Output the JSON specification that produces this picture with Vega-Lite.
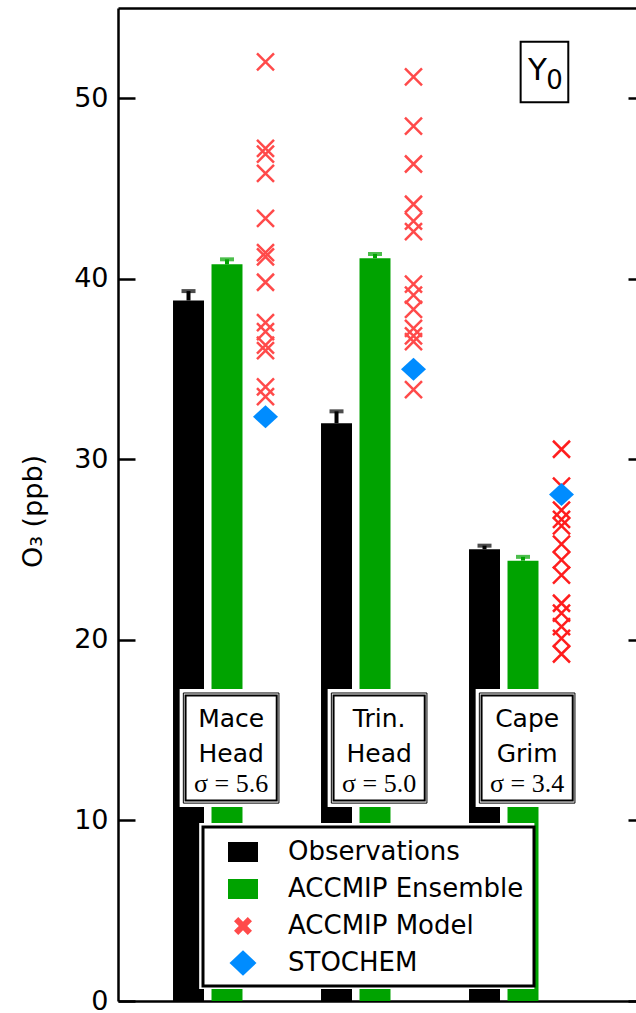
{
  "$schema": "https://vega.github.io/schema/vega-lite/v6.json",
  "width": 518,
  "height": 993,
  "autosize": {"type": "none"},
  "padding": {"left": 118, "top": 8, "right": 0, "bottom": 12},
  "background": "white",
  "config": {"view": {"stroke": null}, "font": "DejaVu Sans", "axis": {"grid": false}},
  "datasets": {
    "bars": [
      {"site": "Mace Head", "series": "Observations", "value": 38.8, "upper": 39.32},
      {"site": "Mace Head", "series": "ACCMIP Ensemble", "value": 40.8, "upper": 41.08},
      {"site": "Trin. Head", "series": "Observations", "value": 32.0, "upper": 32.66},
      {"site": "Trin. Head", "series": "ACCMIP Ensemble", "value": 41.14, "upper": 41.38},
      {"site": "Cape Grim", "series": "Observations", "value": 25.02, "upper": 25.22},
      {"site": "Cape Grim", "series": "ACCMIP Ensemble", "value": 24.39, "upper": 24.6}
    ],
    "models": [
      {"site": "Mace Head", "value": 52.02}, {"site": "Mace Head", "value": 47.23}, {"site": "Mace Head", "value": 46.91},
      {"site": "Mace Head", "value": 45.84}, {"site": "Mace Head", "value": 43.35}, {"site": "Mace Head", "value": 41.45},
      {"site": "Mace Head", "value": 41.22}, {"site": "Mace Head", "value": 39.81}, {"site": "Mace Head", "value": 37.57},
      {"site": "Mace Head", "value": 37.07}, {"site": "Mace Head", "value": 36.33}, {"site": "Mace Head", "value": 36.02},
      {"site": "Mace Head", "value": 34.02}, {"site": "Mace Head", "value": 33.47},
      {"site": "Trin. Head", "value": 51.19}, {"site": "Trin. Head", "value": 48.46}, {"site": "Trin. Head", "value": 46.36},
      {"site": "Trin. Head", "value": 44.13}, {"site": "Trin. Head", "value": 43.2}, {"site": "Trin. Head", "value": 42.61},
      {"site": "Trin. Head", "value": 39.71}, {"site": "Trin. Head", "value": 39.1}, {"site": "Trin. Head", "value": 38.31},
      {"site": "Trin. Head", "value": 37.26}, {"site": "Trin. Head", "value": 36.84}, {"site": "Trin. Head", "value": 36.52},
      {"site": "Trin. Head", "value": 33.86},
      {"site": "Cape Grim", "value": 30.56}, {"site": "Cape Grim", "value": 28.52}, {"site": "Cape Grim", "value": 27.19},
      {"site": "Cape Grim", "value": 26.68}, {"site": "Cape Grim", "value": 26.31}, {"site": "Cape Grim", "value": 25.31},
      {"site": "Cape Grim", "value": 24.43}, {"site": "Cape Grim", "value": 23.59}, {"site": "Cape Grim", "value": 22.03},
      {"site": "Cape Grim", "value": 21.48}, {"site": "Cape Grim", "value": 20.73}, {"site": "Cape Grim", "value": 20.09},
      {"site": "Cape Grim", "value": 19.22}
    ],
    "stochem": [
      {"site": "Mace Head", "value": 32.36},
      {"site": "Trin. Head", "value": 34.99},
      {"site": "Cape Grim", "value": 28.06}
    ],
    "labels": [
      {"site": "Mace Head", "name": "Mace\nHead", "sigma": "σ = 5.6"},
      {"site": "Trin. Head", "name": "Trin.\nHead", "sigma": "σ = 5.0"},
      {"site": "Cape Grim", "name": "Cape\nGrim", "sigma": "σ = 3.4"}
    ],
    "tag": [{"site": "Cape Grim", "main": "Y", "sub": "0"}],
    "frame": [{"from": "Mace Head", "to": "Cape Grim"}]
  },
  "layer": [
    {
      "data": {"name": "bars"},
      "mark": {"type": "bar"},
      "encoding": {
        "x": {"field": "site", "type": "nominal",
          "scale": {"domain": ["Mace Head", "Trin. Head", "Cape Grim"], "paddingInner": 0, "paddingOuter": 0.25, "align": 0.473},
          "axis": {"orient": "bottom", "title": null, "labels": false, "ticks": false, "domain": true, "domainColor": "black", "domainWidth": 2.5}},
        "xOffset": {"field": "series", "type": "nominal",
          "scale": {"domain": ["Observations", "ACCMIP Ensemble", "Models"], "paddingInner": 0.195, "paddingOuter": 0.52}},
        "y": {"field": "value", "type": "quantitative",
          "scale": {"domain": [0, 55], "nice": false, "zero": true},
          "axis": {"orient": "left", "values": [0, 10, 20, 30, 40, 50], "tickSize": -17, "tickWidth": 2.5, "tickColor": "black",
            "domainColor": "black", "domainWidth": 2.5, "labelPadding": 27, "labelFont": "DejaVu Sans", "labelFontSize": 27,
            "labelColor": "black", "title": "O₃ (ppb)", "titleFont": "DejaVu Sans", "titleFontSize": 27, "titleFontWeight": "normal",
            "titleColor": "black", "titleX": -85, "titleY": 503, "titleBaseline": "middle", "titleAlign": "center", "titleAngle": 270, "grid": false}},
        "color": {"field": "series", "type": "nominal",
          "scale": {"domain": ["Observations", "ACCMIP Ensemble", "ACCMIP Model", "STOCHEM"], "range": ["#000000", "#00a300", "#ff4a4a", "#008cff"]},
          "legend": {"orient": "none", "legendX": 85, "legendY": 819, "title": null, "fillColor": "white", "strokeColor": "black",
            "padding": 10, "labelFont": "DejaVu Sans", "labelFontSize": 26, "labelColor": "black", "labelOffset": 30, "labelLimit": 400,
            "symbolSize": 900, "symbolOffset": 15, "rowPadding": 9, "symbolStrokeWidth": 0,
            "encode": {
              "legend": {"update": {"stroke": {"value": "black"}, "strokeWidth": {"value": 3}, "fill": {"value": "white"}}},
              "symbols": {"update": {
                "shape": [
                  {"test": "datum.value === 'ACCMIP Model'", "value": "M-0.317,0.6L-0.6,0.317L-0.283,0L-0.6,-0.317L-0.317,-0.6L0,-0.283L0.317,-0.6L0.6,-0.317L0.283,0L0.6,0.317L0.317,0.6L0,0.283Z"},
                  {"test": "datum.value === 'STOCHEM'", "value": "M0,-0.85L0.9,0L0,0.85L-0.9,0Z"},
                  {"value": "M-1,-0.667H1V0.667H-1Z"}
                ],
                "fill": {"scale": "color", "field": "value"},
                "stroke": {"value": "transparent"},
                "strokeWidth": {"value": 0},
                "size": {"value": 900},
                "opacity": {"value": 1}
              }}
            }}
        }
      }
    },
    {
      "data": {"name": "bars"},
      "mark": {"type": "rule", "strokeWidth": 4},
      "encoding": {
        "x": {"field": "site", "type": "nominal",
          "axis": {"orient": "top", "title": null, "labels": false, "ticks": false, "domain": true, "domainColor": "black", "domainWidth": 2.5}},
        "xOffset": {"field": "series", "type": "nominal"},
        "y": {"field": "value", "type": "quantitative", "axis": null},
        "y2": {"field": "upper"},
        "color": {"field": "series", "type": "nominal"}
      }
    },
    {
      "data": {"name": "bars"},
      "mark": {"type": "tick", "size": 14, "thickness": 4},
      "encoding": {
        "x": {"field": "site", "type": "nominal", "axis": null},
        "xOffset": {"field": "series", "type": "nominal"},
        "y": {"field": "upper", "type": "quantitative", "axis": null},
        "color": {"field": "series", "type": "nominal"}
      }
    },
    {
      "data": {"name": "models"},
      "mark": {"type": "point", "shape": "M-1,-1L1,1M-1,1L1,-1", "filled": false, "size": 289, "strokeWidth": 2.5, "opacity": 1},
      "encoding": {
        "x": {"field": "site", "type": "nominal", "axis": null},
        "xOffset": {"datum": "Models"},
        "y": {"field": "value", "type": "quantitative",
          "axis": {"orient": "right", "values": [0, 10, 20, 30, 40, 50], "tickSize": -8, "tickWidth": 2.5, "tickColor": "black",
            "labels": false, "domain": false, "title": null, "grid": false}},
        "color": {"condition": {"test": "datum.site === 'Cape Grim'", "value": "#ff1e1e"}, "datum": "ACCMIP Model"}
      }
    },
    {
      "data": {"name": "stochem"},
      "mark": {"type": "point", "shape": "M0,-0.92L1,0L0,0.92L-1,0Z", "filled": true, "size": 625, "opacity": 1, "strokeWidth": 0},
      "encoding": {
        "x": {"field": "site", "type": "nominal", "axis": null},
        "xOffset": {"datum": "Models"},
        "y": {"field": "value", "type": "quantitative", "axis": null},
        "color": {"datum": "STOCHEM"}
      }
    },
    {
      "data": {"name": "labels"},
      "mark": {"type": "rect", "fill": "white", "strokeWidth": 0},
      "encoding": {
        "x": {"field": "site", "type": "nominal", "bandPosition": 0.18, "axis": null},
        "x2": {"field": "site", "bandPosition": 0.876},
        "y": {"datum": 10.74, "type": "quantitative", "axis": null},
        "y2": {"datum": 17.28}
      }
    },
    {
      "data": {"name": "labels"},
      "mark": {"type": "rect", "fill": "white", "stroke": "black", "strokeWidth": 1},
      "encoding": {
        "x": {"field": "site", "type": "nominal", "bandPosition": 0.205, "axis": null},
        "x2": {"field": "site", "bandPosition": 0.851},
        "y": {"datum": 10.96, "type": "quantitative", "axis": null},
        "y2": {"datum": 17.06}
      }
    },
    {
      "data": {"name": "labels"},
      "mark": {"type": "rect", "fill": "transparent", "stroke": "black", "strokeWidth": 2},
      "encoding": {
        "x": {"field": "site", "type": "nominal", "bandPosition": 0.22, "axis": null},
        "x2": {"field": "site", "bandPosition": 0.836},
        "y": {"datum": 11.1, "type": "quantitative", "axis": null},
        "y2": {"datum": 16.92}
      }
    },
    {
      "data": {"name": "labels"},
      "mark": {"type": "text", "font": "DejaVu Sans", "fontSize": 25, "lineBreak": "\n", "lineHeight": 35, "align": "center", "baseline": "alphabetic", "color": "black"},
      "encoding": {
        "x": {"field": "site", "type": "nominal", "bandPosition": 0.528, "axis": null},
        "y": {"datum": 15.18, "type": "quantitative", "axis": null},
        "text": {"field": "name"}
      }
    },
    {
      "data": {"name": "labels"},
      "mark": {"type": "text", "font": "Liberation Serif", "fontSize": 26, "align": "center", "baseline": "alphabetic", "color": "black"},
      "encoding": {
        "x": {"field": "site", "type": "nominal", "bandPosition": 0.528, "axis": null},
        "y": {"datum": 11.58, "type": "quantitative", "axis": null},
        "text": {"field": "sigma"}
      }
    },
    {
      "data": {"name": "tag"},
      "mark": {"type": "rect", "fill": "white", "stroke": "black", "strokeWidth": 2},
      "encoding": {
        "x": {"field": "site", "type": "nominal", "bandPosition": 0.484, "axis": null},
        "x2": {"field": "site", "bandPosition": 0.806},
        "y": {"datum": 49.78, "type": "quantitative", "axis": null},
        "y2": {"datum": 53.13}
      }
    },
    {
      "data": {"name": "tag"},
      "mark": {"type": "text", "font": "DejaVu Sans", "fontSize": 31, "align": "center", "baseline": "alphabetic", "color": "black"},
      "encoding": {
        "x": {"field": "site", "type": "nominal", "bandPosition": 0.597, "axis": null},
        "y": {"datum": 51.01, "type": "quantitative", "axis": null},
        "text": {"field": "main"}
      }
    },
    {
      "data": {"name": "tag"},
      "mark": {"type": "text", "font": "DejaVu Sans", "fontSize": 26, "align": "center", "baseline": "alphabetic", "color": "black"},
      "encoding": {
        "x": {"field": "site", "type": "nominal", "bandPosition": 0.713, "axis": null},
        "y": {"datum": 50.5, "type": "quantitative", "axis": null},
        "text": {"field": "sub"}
      }
    },
    {
      "data": {"name": "frame"},
      "mark": {"type": "rect", "fill": "white", "strokeWidth": 0},
      "encoding": {
        "x": {"field": "from", "type": "nominal", "bandPosition": 0.312, "axis": null},
        "x2": {"field": "to", "bandPosition": 0.577},
        "y": {"datum": 0.66, "type": "quantitative", "axis": null},
        "y2": {"datum": 9.86}
      }
    }
  ],
  "resolve": {"axis": {"x": "independent", "y": "independent"}}
}
